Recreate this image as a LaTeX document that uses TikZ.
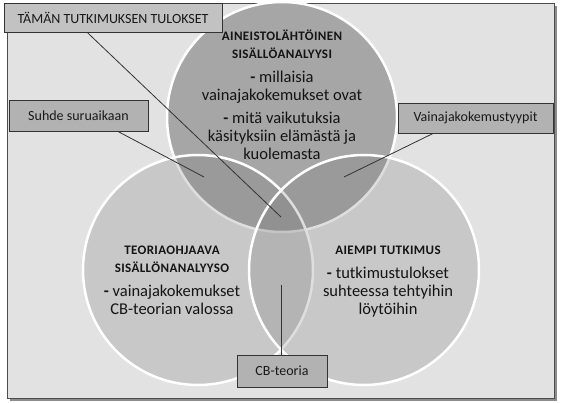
\documentclass[tikz,border=0pt]{standalone}
\usepackage{fontspec}
\setmainfont{Carlito}
\definecolor{framegray}{HTML}{E2E2E2}
\definecolor{topgray}{HTML}{A6A6A6}
\definecolor{lowgray}{HTML}{767676}
\definecolor{boxgray}{HTML}{B2B2B2}
\definecolor{boxlight}{HTML}{C2C2C2}
\newcommand{\headfont}{\fontsize{13}{18}\selectfont\bfseries\addfontfeatures{LetterSpace=3}}
\newcommand{\bodyfont}{\fontsize{16.5}{18}\selectfont}
\newcommand{\tagfont}{\fontsize{14}{16}\selectfont}

\begin{document}
\begin{tikzpicture}[x=1pt,y=-1pt,
		venn/.style={
			circle,
			minimum size=230pt,
			draw=white,
			line width=2.5pt
		},
		venntext/.style={
			align=center,
			inner sep=0pt,
			anchor=north,
			text=black!92,
			font=\bodyfont
		},
		tag/.style={
			draw=black!80,
			fill=boxgray,
			line width=0.8pt,
			inner sep=0pt,
			text=black!90,
			font=\tagfont
		},
		link/.style={
			draw=black!80,
			line width=0.8pt
		}
		]
		
		\useasboundingbox (0,0) rectangle (562,402);
		
		% Frame
		\fill[black!45] (10,6) rectangle (557,401);
		\draw[fill=framegray, draw=black!70, line width=0.8pt] (7,3) rectangle (554,398);
		
		% Circles
		\node[venn, fill=topgray] (aineisto) at (282,117) {};
		\node[venn, fill=lowgray, fill opacity=0.24] (teoria) at (198,270) {};
		\node[venn, fill=lowgray, fill opacity=0.24] (aiempi) at (364,270) {};
		
		% Circle texts
		\node[venntext] (aineistotxt) at (282,30) {%
			\headfont AINEISTOLÄHTÖINEN\\
			\headfont SISÄLLÖANALYYSI\\[6pt]
			\textbf{-} millaisia\\
			vainajakokemukset ovat\\[5pt]
			\textbf{-} mitä vaikutuksia\\
			käsityksiin elämästä ja\\
			kuolemasta};
		\node[venntext] (teoriatxt) at (172,246) {%
			\headfont TEORIAOHJAAVA\\
			\headfont SISÄLLÖNANALYYSO\\[6pt]
			\textbf{-} vainajakokemukset\\
			CB-teorian valossa};
		\node[venntext] (aiempitxt) at (388,246) {%
			\headfont AIEMPI TUTKIMUS\\[6pt]
			\textbf{-} tutkimustulokset\\
			suhteessa tehtyihin\\
			löytöihin};
		
		% Tags
		\node[tag, fill=boxlight, minimum width=218pt, minimum height=29pt] (tulokset) at (113,17.5) {TÄMÄN TUTKIMUKSEN TULOKSET};
		\node[tag, minimum width=139pt, minimum height=31pt] (suhde) at (78.5,115.5) {Suhde suruaikaan};
		\node[tag, minimum width=155pt, minimum height=30pt] (tyypit) at (475.5,118) {Vainajakokemustyypit};
		\node[tag, minimum width=90pt, minimum height=32pt] (cbteoria) at (282,371) {CB-teoria};
		
		% Links
		\coordinate (keskus) at (281,217);
		\coordinate (suhdekohta) at (204,177);
		\coordinate (tyyppikohta) at (344,177);
		\coordinate (cbkohta) at (281,285);
		\draw[link] (tulokset.210) -- (keskus);
		\draw[link] (suhde.-22) -- (suhdekohta);
		\draw[link] (tyypit.200) -- (tyyppikohta);
		\draw[link] (cbteoria.north -| cbkohta) -- (cbkohta);
		
	\end{tikzpicture}
\end{document}
